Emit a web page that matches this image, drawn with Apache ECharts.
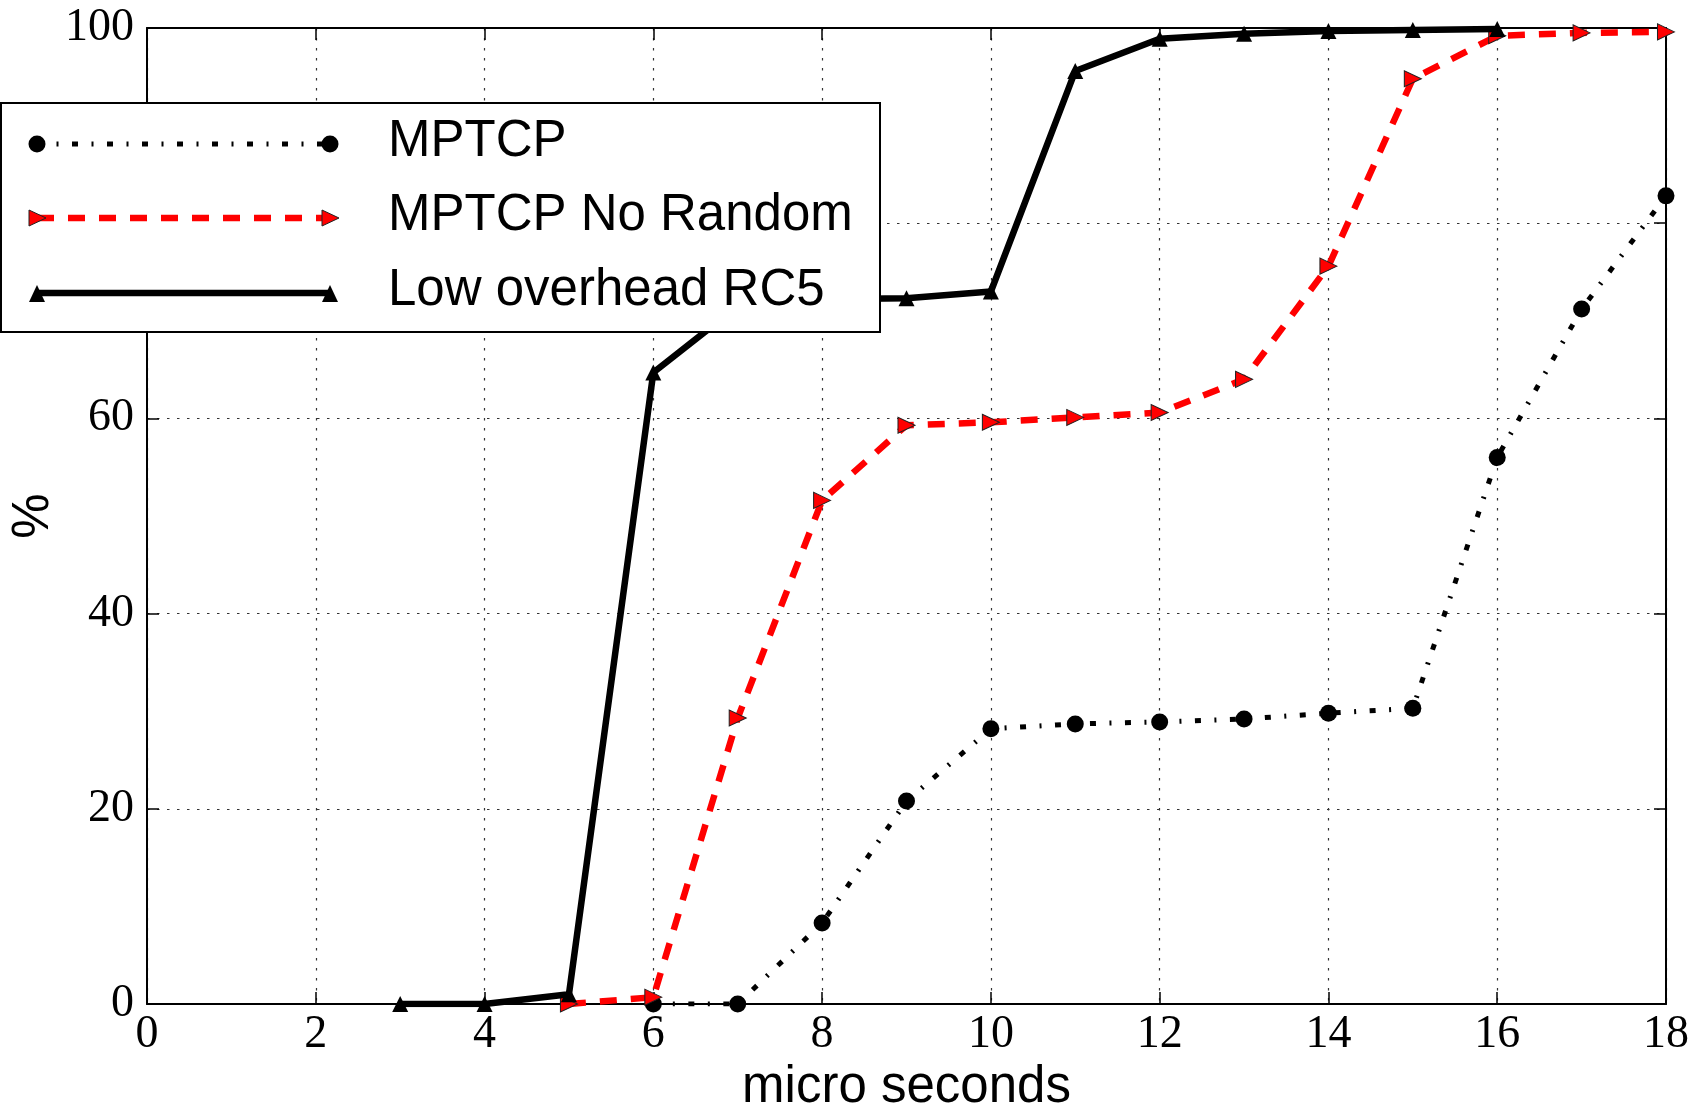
<!DOCTYPE html>
<html>
<head>
<meta charset="utf-8">
<script src="https://cdn.jsdelivr.net/npm/echarts@6/dist/echarts.min.js"></script>
<style>
  html, body { margin: 0; padding: 0; background: #fff; }
  #chart { width: 1702px; height: 1107px; }
</style>
</head>
<body>
<div id="chart"></div>
<script>
// x positions (micro seconds) and cumulative % per series
const mptcpX = [6, 7, 8, 9, 10, 11, 12, 13, 14, 15, 16, 17, 18];
const mptcpY = [0, 0, 8.3, 20.8, 28.2, 28.7, 28.9, 29.2, 29.8, 30.3, 56.0, 71.2, 82.8];

const noRandomX = [5, 6, 7, 8, 9, 10, 11, 12, 13, 14, 15, 16, 17, 18];
const noRandomY = [0, 0.7, 29.3, 51.6, 59.3, 59.6, 60.1, 60.6, 64.0, 75.6, 94.8, 99.2, 99.5, 99.6];

const rc5X = [3, 4, 5, 6, 7, 8, 9, 10, 11, 12, 13, 14, 15, 16];
const rc5Y = [0, 0, 1.0, 64.7, 71.5, 72.2, 72.3, 73.0, 95.6, 98.9, 99.4, 99.7, 99.8, 99.9];

const seriesNames = ['MPTCP', 'MPTCP No Random', 'Low overhead RC5'];

const xMin = 0, xMax = 18, xStep = 2;
const yMin = 0, yMax = 100, yStep = 20;

function pairs(xs, ys) {
  return xs.map((x, i) => [x, ys[i]]);
}

const chart = echarts.init(document.getElementById('chart'), null, { renderer: 'canvas' });

const serifFont = 'Liberation Serif';
const sansFont = 'Liberation Sans';

function gridDots() { return { color: '#333', width: 1.2, type: [2.5, 7.5] }; }
function frame() { return { show: true, onZero: false, lineStyle: { color: '#000', width: 2 } }; }
// matplotlib style ticks pointing into the plot
function innerTick() { return { show: true, inside: true, length: 12, lineStyle: { color: '#000', width: 1.5 } }; }

// legend is drawn by hand, matplotlib style: line sample with a marker at both ends
const legendRows = [144, 218, 293];
const lx1 = 37, lx2 = 330;
function legendGraphics() {
  const g = [];
  g.push({ type: 'rect', shape: { x: 1, y: 103, width: 879, height: 229 },
    style: { fill: '#fff', stroke: '#000', lineWidth: 2 }, z: 100 });
  // MPTCP
  let y = legendRows[0];
  g.push({ type: 'line', shape: { x1: lx1, y1: y, x2: lx2, y2: y },
    style: { stroke: '#000', lineWidth: 5, lineDash: [6, 13.5, 2, 13.5] }, z: 101 });
  [lx1, lx2].forEach(x => g.push({ type: 'circle', shape: { cx: x, cy: y, r: 8.5 },
    style: { fill: '#000' }, z: 102 }));
  // No random
  y = legendRows[1];
  g.push({ type: 'line', shape: { x1: lx1, y1: y, x2: lx2, y2: y },
    style: { stroke: '#ff0000', lineWidth: 6.5, lineDash: [17, 14] }, z: 101 });
  [lx1, lx2].forEach(x => g.push({ type: 'polygon',
    shape: { points: [[x - 8, y - 8], [x + 9, y], [x - 8, y + 8]] },
    style: { fill: '#ff0000', stroke: '#222', lineWidth: 1 }, z: 102 }));
  // RC5
  y = legendRows[2];
  g.push({ type: 'line', shape: { x1: lx1, y1: y, x2: lx2, y2: y },
    style: { stroke: '#000', lineWidth: 6.5 }, z: 101 });
  [lx1, lx2].forEach(x => g.push({ type: 'polygon',
    shape: { points: [[x - 8, y + 9], [x, y - 8], [x + 8, y + 9]] },
    style: { fill: '#000' }, z: 102 }));
  // labels
  seriesNames.forEach((name, i) => g.push({ type: 'text', x: 388, y: legendRows[i] - 2,
    style: { text: name, font: '51px ' + sansFont, fill: '#000', verticalAlign: 'middle', align: 'left' },
    z: 103 }));
  return g;
}

const option = {
  backgroundColor: '#fff',
  animation: false,
  grid: { left: 147, right: 36, top: 28, bottom: 103, containLabel: false, outerBoundsMode: 'none' },
  xAxis: [
    {
      type: 'value', min: xMin, max: xMax, interval: xStep, position: 'bottom',
      name: 'micro seconds', nameLocation: 'middle', nameGap: 47,
      nameTextStyle: { fontFamily: sansFont, fontSize: 51, color: '#000' },
      axisLine: frame(),
      axisTick: innerTick(),
      axisLabel: { fontFamily: serifFont, fontSize: 46, color: '#000', margin: 8 },
      splitLine: { show: true, lineStyle: gridDots() }
    },
    {
      type: 'value', min: xMin, max: xMax, interval: xStep, position: 'top',
      axisLine: frame(),
      axisTick: innerTick(),
      axisLabel: { show: false },
      splitLine: { show: false }
    }
  ],
  yAxis: [
    {
      type: 'value', min: yMin, max: yMax, interval: yStep, position: 'left',
      name: '%', nameLocation: 'middle', nameGap: 88, nameRotate: 90, nameMoveOverlap: false,
      nameTextStyle: { fontFamily: sansFont, fontSize: 51, color: '#000' },
      axisLine: frame(),
      axisTick: innerTick(),
      axisLabel: { fontFamily: serifFont, fontSize: 46, color: '#000', margin: 13 },
      splitLine: { show: true, lineStyle: gridDots() }
    },
    {
      type: 'value', min: yMin, max: yMax, interval: yStep, position: 'right',
      axisLine: frame(),
      axisTick: innerTick(),
      axisLabel: { show: false },
      splitLine: { show: false }
    }
  ],
  series: [
    {
      name: seriesNames[0], type: 'line', data: pairs(mptcpX, mptcpY), z: 2,
      symbol: 'circle', symbolSize: 17, showAllSymbol: true,
      lineStyle: { color: '#000', width: 5, type: [6, 13.5, 2, 13.5] },
      itemStyle: { color: '#000', borderWidth: 0 }
    },
    {
      name: seriesNames[1], type: 'line', data: pairs(noRandomX, noRandomY), z: 3,
      symbol: 'triangle', symbolSize: [16, 17], symbolRotate: -90, showAllSymbol: true,
      lineStyle: { color: '#ff0000', width: 6.5, type: [17, 14] },
      itemStyle: { color: '#ff0000', borderColor: '#222', borderWidth: 1 }
    },
    {
      name: seriesNames[2], type: 'line', data: pairs(rc5X, rc5Y), z: 4,
      symbol: 'triangle', symbolSize: [16, 16], showAllSymbol: true,
      lineStyle: { color: '#000', width: 6.5, type: 'solid' },
      itemStyle: { color: '#000', borderWidth: 0 }
    }
  ],
  graphic: legendGraphics()
};

chart.setOption(option);
</script>
</body>
</html>
